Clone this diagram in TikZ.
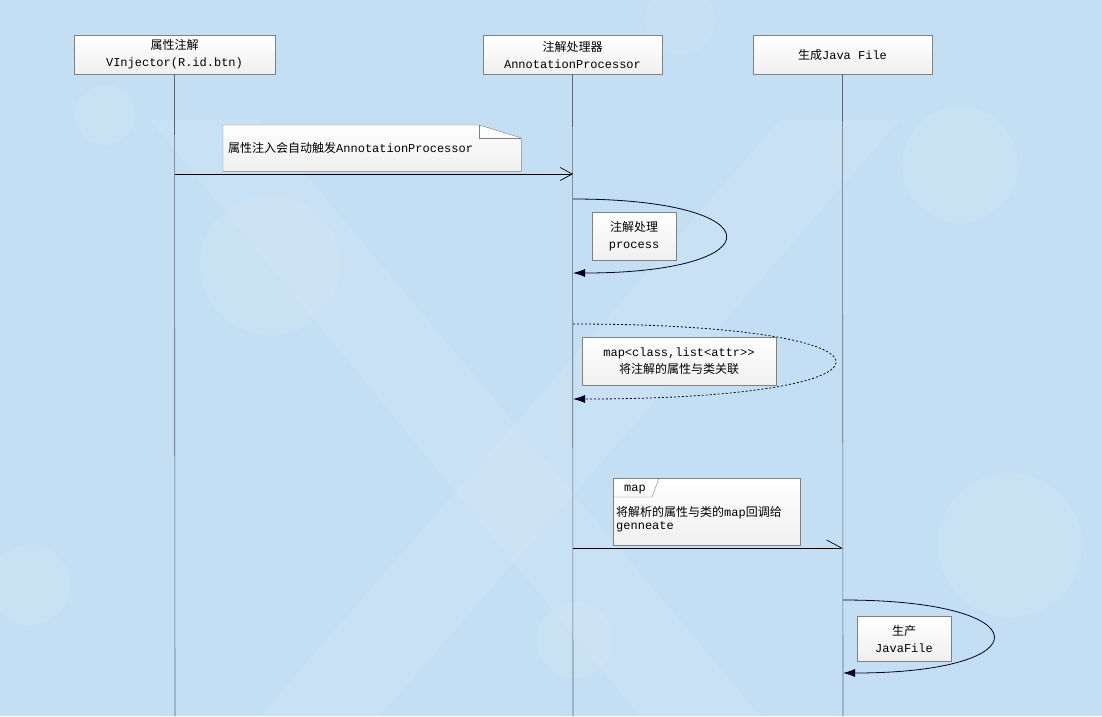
\documentclass[tikz,border=0pt]{standalone}
\usepackage{fontspec}
\setmainfont{Liberation Mono}
\newfontfamily\cjk{Noto Sans CJK SC}
\usetikzlibrary{arrows.meta}
\newcommand\zh[1]{{\cjk #1}}
\definecolor{bgblue}{RGB}{196,223,243}
\definecolor{boxline}{RGB}{128,128,128}
\definecolor{lifeline}{RGB}{90,100,110}
\tikzset{
  headbox/.style={draw=boxline, top color=white, bottom color=black!6, minimum height=39pt, inner sep=2pt, align=center, font=\fontsize{12}{17}\selectfont},
  notebox/.style={draw=boxline, top color=white, bottom color=black!6, inner sep=2pt, align=center, font=\fontsize{12}{17}\selectfont},
  plainnote/.style={inner sep=0pt, align=left, font=\fontsize{12}{14}\selectfont, anchor=west},
  lline/.style={draw=lifeline, line width=0.6pt},
  msg/.style={draw=black, line width=0.7pt},
  selfmsg/.style={draw=black!85!blue, line width=0.8pt, -{Latex[length=12pt,width=8pt]}},
}
\begin{document}
\begin{tikzpicture}[x=1pt,y=-1pt]
\fill[bgblue] (0,0) rectangle (1102,716);
\useasboundingbox (0,0) rectangle (1102,716);
% background decoration
\fill[white,opacity=0.09] (150,120) -- (260,120) -- (760,716) -- (640,716) -- cycle;
\fill[white,opacity=0.09] (780,120) -- (900,120) -- (380,716) -- (260,716) -- cycle;
\fill[white,opacity=0.08] (270,265) circle (70);
\fill[white,opacity=0.08] (960,165) circle (58);
\fill[white,opacity=0.08] (1010,545) circle (72);
\fill[white,opacity=0.08] (30,585) circle (40);
\fill[white,opacity=0.08] (105,115) circle (30);
\fill[white,opacity=0.08] (575,640) circle (38);
\fill[white,opacity=0.06] (680,20) circle (35);

% heads
\node[headbox, minimum width=201pt] (h1) at (174.5,54.5) {\zh{属性注解}\\VInjector(R.id.btn)};
\node[headbox, minimum width=179pt] (h2) at (572.5,54.5) {\zh{注解处理器}\\AnnotationProcessor};
\node[headbox, minimum width=179pt] (h3) at (842.5,54.5) {\zh{生成}Java File};

% lifeline ends
\coordinate (e1) at (175,716);
\coordinate (e2) at (573,716);
\coordinate (e3) at (843,716);
\draw[lline] (h1.south) -- (e1);
\draw[lline] (h2.south) -- (e2);
\draw[lline] (h3.south) -- (e3);

% note 1 (folded corner)
\node[minimum width=298pt, minimum height=46pt, anchor=north west, inner sep=0pt] (n1) at (223,125) {};
\path[draw=boxline, top color=white, bottom color=black!6] (n1.north west) -- ([xshift=-42pt]n1.north east) -- ([yshift=-13pt]n1.north east) -- (n1.south east) -- (n1.south west) -- cycle;
\draw[boxline] ([xshift=-42pt]n1.north east) -- ([xshift=-42pt,yshift=-13pt]n1.north east) -- ([yshift=-13pt]n1.north east);
\node[plainnote] (t1) at (228,148) {\zh{属性注入会自动触发}AnnotationProcessor};

% message 1
\coordinate (m1a) at (175,174);
\coordinate (m1b) at (573,174);
\draw[msg, -{Straight Barb[length=12pt,width=13pt]}] (m1a) -- (m1b);

% self message 1
\coordinate (s1a) at (573,199);
\coordinate (s1b) at (573,273);
\draw[selfmsg] (s1a) .. controls (776,199) and (776,273) .. (s1b);
\node[notebox, minimum width=84pt, minimum height=48pt] (n2) at (634,236) {\zh{注解处理}\\process};

% self message 2 (dotted)
\coordinate (s2a) at (573,324);
\coordinate (s2b) at (573,399);
\draw[selfmsg, dash pattern=on 2pt off 2pt] (s2a) .. controls (922,324) and (922,399) .. (s2b);
\node[notebox, minimum width=194pt, minimum height=48pt] (n3) at (679,361) {map<class,list<attr>{}>\\\zh{将注解的属性与类关联}};

% tab note
\node[draw=boxline, top color=white, bottom color=black!6, minimum width=187pt, minimum height=67pt, anchor=north west, inner sep=0pt] (n4) at (613,478) {};
\draw[boxline] (613,497) -- (652,497) -- (659,478);
\node[inner sep=0pt, font=\fontsize{12}{14}\selectfont] (tab) at (635,489) {map};
\node[plainnote, anchor=north west, font=\fontsize{12}{13.5}\selectfont] (t4) at (616,506) {\zh{将解析的属性与类的}map\zh{回调给}\\genneate};

% message 4 (half arrow)
\coordinate (m4a) at (573,548);
\coordinate (m4b) at (843,548);
\draw[msg, -{Straight Barb[left,length=15pt,width=16pt]}] (m4a) -- (m4b);

% self message 3
\coordinate (s3a) at (843,600);
\coordinate (s3b) at (843,673);
\draw[selfmsg] (s3a) .. controls (1043,600) and (1043,673) .. (s3b);
\node[notebox, minimum width=94pt, minimum height=45pt] (n5) at (904,638.5) {\zh{生产}\\JavaFile};
\end{tikzpicture}
\end{document}
